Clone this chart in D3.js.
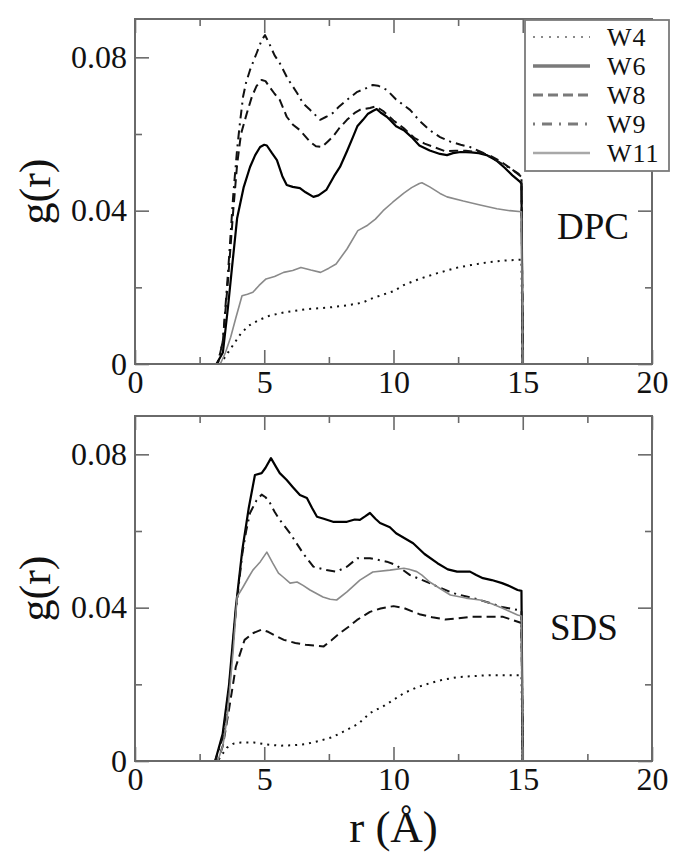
<!DOCTYPE html>
<html>
<head>
<meta charset="utf-8">
<script src="https://cdn.jsdelivr.net/npm/d3@7"></script>
<style>
  html, body { margin: 0; padding: 0; background: #fff; }
  svg { display: block; }
</style>
</head>
<body>
<svg id="chart" width="684" height="863"></svg>
<script>
// ---------------- data (r in Å, g(r)) ----------------
const seriesNames = ["W4", "W6", "W8", "W9", "W11"];
const xMajorTicks = [0, 5, 10, 15, 20];
const xMinorTicks = [2.5, 7.5, 12.5, 17.5];
const yMajorTicks = [0, 0.04, 0.08];
const yMinorTicks = [0.02, 0.06];
const panelLabels = ["DPC", "SDS"];

const dpcW4 = [[3.0,0],[3.3,0],[3.5,0.002],[3.7,0.004],[3.9,0.006],[4.1,0.008],[4.4,0.010],[4.8,0.0115],[5.2,0.0126],[5.8,0.0135],[6.6,0.0143],[7.6,0.0148],[8.2,0.0153],[8.8,0.016],[9.2,0.0172],[10.0,0.019],[10.4,0.0206],[11.0,0.0222],[11.7,0.0237],[12.5,0.0252],[13.0,0.0258],[13.7,0.0266],[14.3,0.0270],[14.95,0.0272],[15.0,0]];
const dpcW6 = [[3.0,0],[3.15,0],[3.4,0.003],[3.6,0.015],[3.75,0.025],[3.95,0.038],[4.2,0.046],[4.45,0.0514],[4.65,0.0545],[4.84,0.0566],[5.0,0.0572],[5.1,0.0570],[5.3,0.0550],[5.49,0.0532],[5.7,0.049],[5.87,0.0467],[6.1,0.0462],[6.38,0.0459],[6.6,0.0448],[6.9,0.0436],[7.1,0.0440],[7.4,0.0454],[7.7,0.049],[7.93,0.0514],[8.2,0.0555],[8.43,0.0592],[8.6,0.062],[8.82,0.0637],[9.0,0.0652],[9.2,0.0660],[9.35,0.0665],[9.5,0.0656],[9.74,0.0645],[9.86,0.0637],[10.1,0.062],[10.4,0.061],[10.7,0.0592],[11.0,0.057],[11.4,0.0557],[11.8,0.0548],[12.07,0.0545],[12.3,0.0550],[12.6,0.0553],[13.0,0.0552],[13.3,0.055],[13.6,0.0545],[14.0,0.053],[14.3,0.0512],[14.6,0.0492],[14.9,0.0475],[14.95,0.0470],[15.0,0]];
const dpcW8 = [[3.0,0],[3.2,0],[3.4,0.006],[3.6,0.022],[3.8,0.040],[3.95,0.052],[4.1,0.060],[4.33,0.0655],[4.52,0.0697],[4.7,0.0725],[4.9,0.0741],[5.05,0.0738],[5.2,0.0723],[5.4,0.0705],[5.6,0.0689],[5.87,0.0645],[6.1,0.0625],[6.38,0.061],[6.77,0.058],[7.0,0.0568],[7.23,0.0566],[7.45,0.058],[7.66,0.0593],[7.9,0.0615],[8.2,0.0637],[8.5,0.0655],[8.7,0.0663],[9.09,0.0668],[9.3,0.0672],[9.6,0.066],[10.0,0.0635],[10.4,0.0615],[10.8,0.059],[11.2,0.0575],[11.6,0.0565],[12.0,0.0555],[12.4,0.0556],[12.8,0.0556],[13.3,0.0553],[13.7,0.0545],[14.1,0.0530],[14.5,0.0512],[14.95,0.0488],[15.0,0]];
const dpcW9 = [[3.0,0],[3.2,0],[3.4,0.006],[3.6,0.024],[3.8,0.044],[3.95,0.056],[4.06,0.0629],[4.18,0.0697],[4.3,0.0735],[4.45,0.0767],[4.7,0.081],[4.9,0.0845],[5.03,0.0858],[5.2,0.0835],[5.4,0.0805],[5.6,0.0785],[5.9,0.0745],[6.27,0.0707],[6.5,0.068],[6.77,0.0663],[7.0,0.0648],[7.16,0.0637],[7.4,0.0645],[7.66,0.0655],[7.9,0.0672],[8.2,0.0689],[8.6,0.071],[8.9,0.0718],[9.2,0.0728],[9.4,0.0726],[9.74,0.0715],[10.1,0.069],[10.64,0.0663],[11.0,0.0635],[11.4,0.061],[11.8,0.0592],[12.2,0.058],[12.6,0.0572],[12.96,0.0566],[13.5,0.055],[14.0,0.053],[14.4,0.0515],[14.8,0.0498],[14.95,0.049],[15.0,0]];
const dpcW11 = [[3.0,0],[3.3,0],[3.5,0.003],[3.7,0.007],[3.9,0.012],[4.14,0.0178],[4.35,0.0182],[4.56,0.0187],[4.8,0.0205],[5.07,0.0222],[5.4,0.0228],[5.75,0.0239],[6.1,0.0244],[6.42,0.0252],[6.8,0.0245],[7.18,0.0239],[7.5,0.025],[7.78,0.0261],[8.2,0.030],[8.62,0.0348],[9.0,0.0362],[9.3,0.0378],[9.6,0.040],[9.97,0.0422],[10.4,0.0446],[10.7,0.046],[11.0,0.0471],[11.1,0.0473],[11.4,0.0462],[11.8,0.0445],[12.07,0.0436],[12.7,0.0425],[13.35,0.0415],[14.0,0.0405],[14.5,0.040],[14.95,0.0397],[15.0,0]];

const sdsW4 = [[3.0,0],[3.2,0],[3.4,0.002],[3.56,0.0035],[3.8,0.0045],[4.1,0.0048],[4.6,0.0048],[5.1,0.0043],[5.6,0.0040],[6.1,0.0041],[6.6,0.0044],[7.1,0.0052],[7.63,0.0062],[8.1,0.0078],[8.64,0.0097],[9.09,0.0125],[9.66,0.0145],[10.4,0.0177],[10.9,0.0192],[11.4,0.0203],[11.9,0.0212],[12.5,0.0219],[12.96,0.0221],[13.7,0.0224],[14.3,0.0224],[14.95,0.0224],[15.0,0]];
const sdsW6 = [[3.0,0],[3.1,0],[3.39,0.007],[3.64,0.020],[3.9,0.040],[4.15,0.055],[4.4,0.066],[4.64,0.0746],[4.9,0.0751],[5.05,0.0765],[5.26,0.079],[5.45,0.0768],[5.6,0.0751],[5.87,0.0733],[6.1,0.0715],[6.38,0.0694],[6.65,0.0686],[6.85,0.066],[7.04,0.0637],[7.3,0.0632],[7.66,0.0624],[8.2,0.0624],[8.5,0.0630],[8.7,0.0629],[8.9,0.0638],[9.09,0.0647],[9.3,0.0632],[9.48,0.0621],[9.86,0.061],[10.1,0.0594],[10.76,0.0568],[11.2,0.054],[11.7,0.0516],[12.1,0.0500],[12.46,0.0494],[12.96,0.0494],[13.2,0.0485],[13.46,0.0477],[13.8,0.0472],[14.2,0.0464],[14.5,0.0456],[14.8,0.0446],[14.95,0.0444],[15.0,0]];
const sdsW8 = [[3.0,0],[3.2,0],[3.4,0.004],[3.65,0.014],[3.9,0.0246],[4.24,0.0316],[4.58,0.0334],[4.9,0.0343],[5.15,0.0337],[5.4,0.0328],[5.76,0.0316],[6.2,0.0308],[6.6,0.0303],[7.3,0.0299],[7.6,0.0315],[7.93,0.0334],[8.3,0.0352],[8.59,0.0368],[9.09,0.0389],[9.5,0.0398],[10.0,0.0404],[10.4,0.0399],[11.0,0.0383],[11.5,0.0375],[12.0,0.0369],[12.5,0.0372],[12.96,0.0376],[13.7,0.0376],[14.24,0.0376],[14.6,0.0368],[14.95,0.0360],[15.0,0]];
const sdsW9 = [[3.0,0],[3.1,0],[3.39,0.006],[3.64,0.019],[3.9,0.039],[4.15,0.054],[4.3,0.060],[4.45,0.0647],[4.7,0.068],[4.9,0.0695],[5.05,0.0688],[5.2,0.0676],[5.4,0.065],[5.6,0.0629],[6.0,0.0594],[6.5,0.0542],[6.9,0.0507],[7.4,0.0498],[7.8,0.0494],[8.2,0.0507],[8.6,0.0529],[9.09,0.0529],[9.74,0.052],[10.1,0.0511],[10.64,0.0485],[11.4,0.0464],[12.3,0.0438],[13.35,0.042],[14.2,0.0402],[14.8,0.0394],[14.95,0.0392],[15.0,0]];
const sdsW11 = [[3.0,0],[3.2,0],[3.4,0.004],[3.56,0.011],[3.8,0.029],[3.95,0.0428],[4.18,0.0454],[4.4,0.048],[4.56,0.0498],[4.85,0.052],[5.1,0.0545],[5.33,0.0516],[5.55,0.049],[5.73,0.048],[6.0,0.0464],[6.27,0.0467],[6.5,0.0458],[6.77,0.0446],[7.27,0.0428],[7.55,0.0422],[7.8,0.042],[8.2,0.0441],[8.7,0.0472],[9.2,0.0493],[9.86,0.0498],[10.4,0.0503],[10.6,0.0500],[10.9,0.0494],[11.1,0.0485],[11.4,0.0467],[11.8,0.045],[12.2,0.0433],[12.8,0.0425],[13.35,0.042],[13.8,0.041],[14.2,0.0399],[14.5,0.039],[14.8,0.0381],[14.95,0.0378],[15.0,0]];

const dpcSeries = [dpcW4, dpcW6, dpcW8, dpcW9, dpcW11];
const sdsSeries = [sdsW4, sdsW6, sdsW8, sdsW9, sdsW11];

// ---------------- styles ----------------
const FONT = '"Liberation Serif"';
const lineStyles = {
  W4:  { stroke: "#111", width: 2.0, dash: "2,5" },
  W6:  { stroke: "#000", width: 2.2, dash: null },
  W8:  { stroke: "#111", width: 2.0, dash: "9,5" },
  W9:  { stroke: "#111", width: 2.0, dash: "9,5,2,5" },
  W11: { stroke: "#8a8a8a", width: 1.6, dash: null }
};
const legendStyles = {
  W4:  { stroke: "#8a8a8a", width: 2.2, dash: "2,6" },
  W6:  { stroke: "#7a7a7a", width: 3.5, dash: null },
  W8:  { stroke: "#7a7a7a", width: 3.0, dash: "10,5" },
  W9:  { stroke: "#7a7a7a", width: 3.0, dash: "2,7,10,7" },
  W11: { stroke: "#a8a8a8", width: 2.6, dash: null }
};

const svg = d3.select("#chart");
const L = 135, R = 652, H = 345;
const panelTops = [19, 416];

function addText(sel) {
  return sel.append("text").attr("font-family", FONT).attr("fill", "#111");
}

function drawPanel(top, series, label, labelPos, showXTitle) {
  const x = d3.scaleLinear().domain([0, 20]).range([L, R]);
  const y = d3.scaleLinear().domain([0, 0.09]).range([top + H, top]);
  const g = svg.append("g");

  const line = d3.line().x(d => x(d[0])).y(d => y(d[1]));
  series.forEach((s, i) => {
    const st = lineStyles[seriesNames[i]];
    g.append("path").datum(s)
      .attr("d", line)
      .attr("fill", "none")
      .attr("stroke", st.stroke)
      .attr("stroke-width", st.width)
      .attr("stroke-dasharray", st.dash)
      .attr("stroke-linejoin", "round");
  });

  g.append("rect").attr("x", L).attr("y", top).attr("width", R - L).attr("height", H)
    .attr("fill", "none").attr("stroke", "#6a6a6a").attr("stroke-width", 2);

  const styleAxis = sel => {
    sel.attr("font-family", FONT).attr("font-size", 32);
    sel.select(".domain").remove();
    sel.selectAll("line").attr("stroke", "#6a6a6a").attr("stroke-width", 1.6);
    sel.selectAll("text").attr("font-family", FONT).attr("font-size", 32).attr("fill", "#111");
  };
  const fmtY = d => d === 0 ? "0" : d3.format(".2f")(d);

  g.append("g").attr("transform", `translate(0,${top + H})`)
    .call(d3.axisBottom(x).tickValues(xMajorTicks).tickSize(-14).tickPadding(6).tickFormat(d3.format("d")))
    .call(styleAxis);
  g.append("g").attr("transform", `translate(0,${top + H})`)
    .call(d3.axisBottom(x).tickValues(xMinorTicks).tickSize(-7).tickFormat(""))
    .call(styleAxis);
  g.append("g").attr("transform", `translate(0,${top})`)
    .call(d3.axisTop(x).tickValues(xMajorTicks).tickSize(-14).tickFormat(""))
    .call(styleAxis);
  g.append("g").attr("transform", `translate(0,${top})`)
    .call(d3.axisTop(x).tickValues(xMinorTicks).tickSize(-7).tickFormat(""))
    .call(styleAxis);
  g.append("g").attr("transform", `translate(${L},0)`)
    .call(d3.axisLeft(y).tickValues(yMajorTicks).tickSize(-14).tickPadding(8).tickFormat(fmtY))
    .call(styleAxis);
  g.append("g").attr("transform", `translate(${L},0)`)
    .call(d3.axisLeft(y).tickValues(yMinorTicks).tickSize(-7).tickFormat(""))
    .call(styleAxis);
  g.append("g").attr("transform", `translate(${R},0)`)
    .call(d3.axisRight(y).tickValues(yMajorTicks).tickSize(-14).tickFormat(""))
    .call(styleAxis);
  g.append("g").attr("transform", `translate(${R},0)`)
    .call(d3.axisRight(y).tickValues(yMinorTicks).tickSize(-7).tickFormat(""))
    .call(styleAxis);

  addText(g)
    .attr("transform", `translate(50,${top + H / 2}) rotate(-90)`)
    .attr("text-anchor", "middle")
    .attr("font-size", 44)
    .text("g(r)");

  addText(g).attr("x", labelPos[0]).attr("y", labelPos[1])
    .attr("font-size", 37).text(label);

  if (showXTitle) {
    addText(g).attr("x", (L + R) / 2).attr("y", 842)
      .attr("text-anchor", "middle").attr("font-size", 45).text("r (Å)");
  }
  return { x, y };
}

drawPanel(panelTops[0], dpcSeries, panelLabels[0], [557, 239], false);
drawPanel(panelTops[1], sdsSeries, panelLabels[1], [550, 640], true);

// legend (top panel)
const leg = svg.append("g");
leg.append("rect").attr("x", 525).attr("y", 20).attr("width", 144).attr("height", 151)
  .attr("fill", "#fff").attr("stroke", "#7a7a7a").attr("stroke-width", 1.8);
const legendRowY = d3.scalePoint().domain(seriesNames).range([37, 153]);
seriesNames.forEach(name => {
  const st = legendStyles[name];
  const cy = legendRowY(name);
  leg.append("line").attr("x1", 533).attr("x2", 590).attr("y1", cy).attr("y2", cy)
    .attr("stroke", st.stroke).attr("stroke-width", st.width).attr("stroke-dasharray", st.dash);
  addText(leg).attr("x", 607).attr("y", cy + 9).attr("font-size", 26)
    .attr("letter-spacing", 1).text(name);
});
</script>
</body>
</html>
